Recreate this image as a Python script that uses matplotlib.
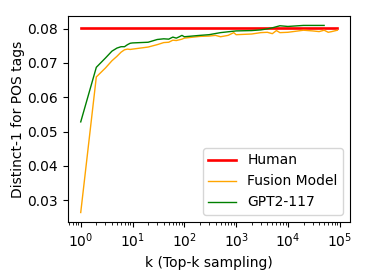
import matplotlib
matplotlib.use("Agg")
import matplotlib.pyplot as plt

# k values
k_fusion = [1, 2, 3, 4, 5, 6, 7, 8, 9, 10, 20, 30, 40, 50, 60, 70, 80, 90, 100,
            200, 300, 400, 500, 700, 900, 1000, 2000, 3000, 4000, 5000, 6000, 7000,
            10000, 20000, 30000, 40000, 50000, 60000, 70000, 90000]
fusion = [0.0264, 0.0659, 0.0685, 0.0706, 0.0719, 0.0731, 0.0738, 0.0740, 0.0739, 0.0740,
          0.0746, 0.0753, 0.0759, 0.0760, 0.0766, 0.0765, 0.0767, 0.0769, 0.0772,
          0.0777, 0.0778, 0.0780, 0.0776, 0.0780, 0.0788, 0.0782, 0.0784, 0.0788, 0.0789,
          0.0785, 0.0794, 0.0788, 0.0789, 0.0795, 0.0793, 0.0791, 0.0795, 0.0789, 0.0791,
          0.0795]

k_gpt = [1, 2, 3, 4, 5, 6, 7, 8, 9, 10, 20, 30, 40, 50, 60, 70, 80, 90, 100,
         200, 300, 500, 1000, 2000, 3000, 4000, 5000, 7000, 10000, 20000, 50000]
gpt = [0.0528, 0.0687, 0.0714, 0.0734, 0.0743, 0.0747, 0.0747, 0.0753, 0.0757, 0.0758,
       0.0760, 0.0768, 0.0770, 0.0769, 0.0775, 0.0772, 0.0776, 0.0780, 0.0776,
       0.0780, 0.0782, 0.0788, 0.0793, 0.0794, 0.0796, 0.0799, 0.0802, 0.0808, 0.0806,
       0.0809, 0.0809]

k_human = [1, 90000]
human = [0.0802, 0.0802]

dpi = 100
fig = plt.figure(figsize=(369 / dpi, 277 / dpi), dpi=dpi)
ax = fig.add_subplot(111)
fig.subplots_adjust(left=0.184, right=0.949, bottom=0.199, top=0.942)

ax.plot(k_human, human, color="red", lw=1.9, label="Human")
ax.plot(k_fusion, fusion, color="orange", lw=1.0, label="Fusion Model")
ax.plot(k_gpt, gpt, color="green", lw=1.0, label="GPT2-117")
ax.set_xscale("log")
ax.set_xlabel("k (Top-k sampling)")
ax.set_ylabel("Distinct-1 for POS tags", labelpad=2)
ax.set_yticks([0.03, 0.04, 0.05, 0.06, 0.07, 0.08])
ax.legend(loc="lower right")

fig.savefig("out.png", dpi=dpi)
